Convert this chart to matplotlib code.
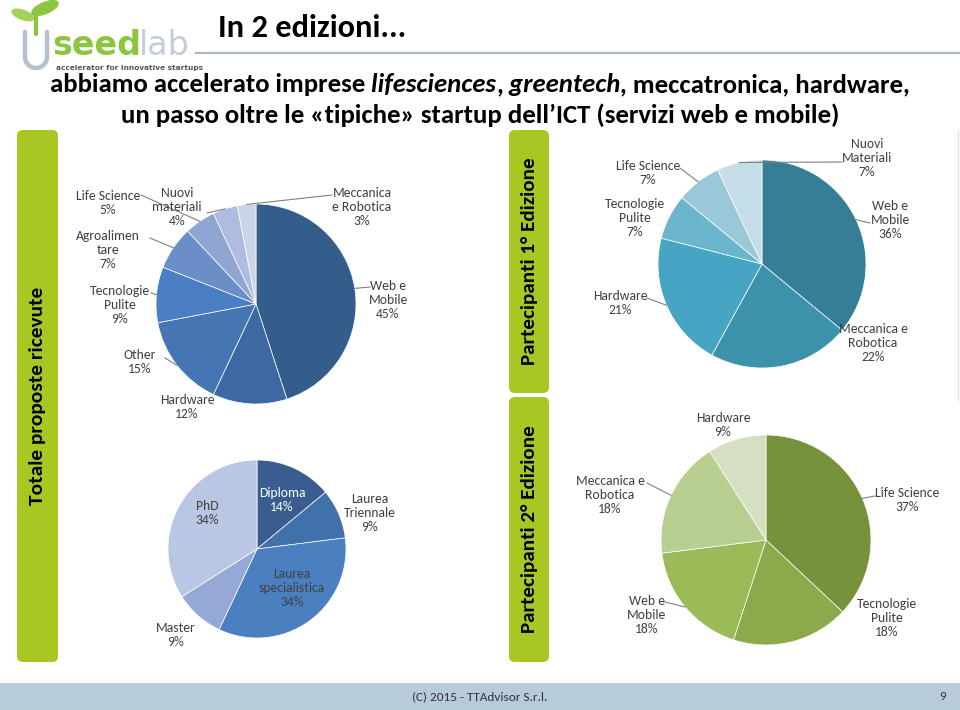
import matplotlib
matplotlib.use('Agg')
import matplotlib.pyplot as plt
from matplotlib import font_manager
from matplotlib.patches import FancyBboxPatch, Rectangle, Ellipse
import numpy as np

# ---------------- data ----------------
tot_labels = ['Web e\nMobile', 'Hardware', 'Other', 'Tecnologie\nPulite', 'Agroalimen\ntare',
              'Life Science', 'Nuovi\nmateriali', 'Meccanica\ne Robotica']
tot_values = [45, 12, 15, 9, 7, 5, 4, 3]

edu_labels = ['Diploma', 'Laurea\nTriennale', 'Laurea\nspecialistica', 'Master', 'PhD']
edu_values = [14, 9, 34, 9, 34]

ed1_labels = ['Web e\nMobile', 'Meccanica e\nRobotica', 'Hardware', 'Tecnologie\nPulite',
              'Life Science', 'Nuovi\nMateriali']
ed1_values = [36, 22, 21, 7, 7, 7]

ed2_labels = ['Life Science', 'Tecnologie\nPulite', 'Web e\nMobile', 'Meccanica e\nRobotica', 'Hardware']
ed2_values = [37, 18, 18, 18, 9]

title = 'In 2 edizioni...'
side_left = 'Totale proposte ricevute'
side_r1 = 'Partecipanti 1° Edizione'
side_r2 = 'Partecipanti 2° Edizione'
footer = '(C) 2015 - TTAdvisor S.r.l.'
page = '9'

# ---------------- fonts ----------------
names = {f.name for f in font_manager.fontManager.ttflist}
def pick(*c):
    for n in c:
        if n in names:
            return n
    return 'DejaVu Sans'
F = pick('Carlito', 'Lato', 'Open Sans')

W, H = 960, 710
fig = plt.figure(figsize=(9.6, 7.1), dpi=100)
fig.patch.set_facecolor('white')
bg = fig.add_axes([0, 0, 1, 1])
bg.set_xlim(0, W)
bg.set_ylim(H, 0)
bg.axis('off')

TXT = '#404040'
GREEN = '#a9c722'

# ---------------- logo ----------------
tt = np.linspace(np.pi, 2 * np.pi, 30)
ux = np.concatenate([[25], 36 + 11 * np.cos(tt), [47]])
uy = np.concatenate([[32], 57 - 11 * np.sin(tt), [32]])
bg.plot(ux, uy, color='#b5c0cf', lw=3.2, solid_capstyle='round')
bg.plot([35.5, 35.5], [15, 34], color='#8cc63e', lw=3, solid_capstyle='round')
bg.add_patch(Ellipse((23, 15), 23, 9, angle=20, color='#a6d15a'))
bg.add_patch(Ellipse((45, 8), 28, 11, angle=-23, color='#8cc63e'))
bg.text(52, 55, 'seed', fontsize=24, fontweight='bold', color='#8cc63e',
        family='DejaVu Sans', ha='left', va='baseline')
bg.text(139, 55, 'lab', fontsize=24, color='#c3cddb', family='DejaVu Sans',
        ha='left', va='baseline')
bg.text(56, 70, 'accelerator for innovative startups', fontsize=5.3, fontweight='bold',
        color='#555555', family='DejaVu Sans', ha='left', va='baseline')

# title + rule
bg.text(218, 28, title, fontsize=23.3, fontweight='bold', color='black', family=F,
        ha='left', va='center')
bg.plot([196, 960], [53, 53], color='#a9b9cc', lw=1.6)

# subtitle (rich text)
def rich_line(segments, y, size):
    out = []
    first = bg.text(0, y, segments[0][0], fontsize=size, fontweight='bold',
                    fontstyle=segments[0][1], family=F, ha='left', va='baseline', color='black')
    out.append(first)
    prev = first
    for s, st in segments[1:]:
        t = bg.annotate(s, xy=(1, y), xycoords=(prev, 'data'), fontsize=size,
                        fontweight='bold', fontstyle=st, family=F, ha='left',
                        va='baseline', color='black')
        out.append(t)
        prev = t
    return out

line1 = rich_line([('abbiamo accelerato imprese', 'normal'), (' lifesciences', 'italic'),
                   (',', 'normal'), (' greentech', 'italic'),
                   (', meccatronica, hardware,', 'normal')], 92, 19.3)
line2 = rich_line([('un passo oltre le «tipiche» startup dell’ICT (servizi web e mobile)', 'normal')],
                  123, 19.3)

# side bars
def side_bar(x0, y0, x1, y1, text, fs):
    bg.add_patch(FancyBboxPatch((x0, y0), x1 - x0, y1 - y0,
                                boxstyle='round,pad=0,rounding_size=6',
                                fc=GREEN, ec='none'))
    bg.text((x0 + x1) / 2, (y0 + y1) / 2, text, rotation=90, fontsize=fs,
            fontweight='bold', family=F, color='black', ha='center', va='center')

side_bar(17, 130, 58, 662, side_left, 15.4)
side_bar(509, 130, 549, 393, side_r1, 15.2)
side_bar(509, 397, 549, 662, side_r2, 15.2)
bg.plot([958, 958], [130, 400], color='#e2e2e2', lw=1)

# footer
bg.add_patch(Rectangle((0, 683), W, 27, fc='#b8cbd9', ec='none'))
bg.text(480, 697, footer, fontsize=9.5, family=F, color='#333333', ha='center', va='center')
bg.text(943, 697, page, fontsize=9.5, family=F, color='#333333', ha='center', va='center')

# ---------------- pies ----------------
def draw_pie(cx, cy, r, values, labels, colors, label_px, leader_px, tcolors=None, fs=9.8):
    ax = fig.add_axes([(cx - r) / W, 1 - (cy + r) / H, 2 * r / W, 2 * r / H])
    wedges, _ = ax.pie(values, colors=colors, startangle=90, counterclock=False,
                       radius=1, wedgeprops=dict(edgecolor='white', linewidth=0.5))
    ax.set_xlim(-1, 1)
    ax.set_ylim(-1, 1)
    ax.set_aspect('equal')
    ax.axis('off')
    for i, (w, lab, v) in enumerate(zip(wedges, labels, values)):
        lx, ly = label_px[i]
        c = TXT if tcolors is None else tcolors[i]
        ax.text((lx - cx) / r, (cy - ly) / r, f'{lab}\n{v}%', ha='center', va='center',
                fontsize=fs, family=F, color=c, linespacing=1.2, clip_on=False)
        if leader_px[i] is not None:
            th = np.deg2rad((w.theta1 + w.theta2) / 2)
            ax.plot([np.cos(th), (leader_px[i][0] - cx) / r],
                    [np.sin(th), (cy - leader_px[i][1]) / r],
                    color='#808080', lw=0.8, clip_on=False)
    return ax

draw_pie(256, 304, 100, tot_values, tot_labels,
         ['#355d8c', '#3d69a2', '#4576b3', '#4a80c3', '#6a8fc8', '#8fa5d2', '#adbcdf', '#ccd5e8'],
         [(388, 300), (187, 407), (140, 362), (120, 305), (108, 250), (108, 203), (177, 207), (362, 207)],
         [(370, 287), None, (165, 358), (151, 293), (150, 238), (141, 195), (207, 213), (332, 195)])

draw_pie(257, 549, 89, edu_values, edu_labels,
         ['#395d8f', '#4171ab', '#4a7fc0', '#94a9d5', '#b9c7e4'],
         [(282, 500), (370, 513), (292, 588), (176, 635), (207, 513)],
         [None, None, None, None, None],
         tcolors=['white', TXT, TXT, TXT, TXT])

draw_pie(762, 264, 104, ed1_values, ed1_labels,
         ['#367e96', '#3c91ab', '#45a5c2', '#6bb5cd', '#9ac8d9', '#c4dde6'],
         [(890, 220), (873, 343), (620, 303), (635, 218), (648, 173), (867, 158)],
         [(870, 223), None, (647, 298), None, (680, 168), (842, 162)])

draw_pie(766, 540, 105, ed2_values, ed2_labels,
         ['#76923c', '#8aaa4c', '#9bbb59', '#b9cf92', '#d5e0c3'],
         [(907, 500), (887, 618), (647, 615), (610, 495), (723, 425)],
         [(875, 496), None, (665, 602), (647, 483), None])

# center subtitle lines
fig.canvas.draw()
rend = fig.canvas.get_renderer()
for ln in (line1, line2):
    b0 = ln[0].get_window_extent(rend)
    b1 = ln[-1].get_window_extent(rend)
    width = b1.x1 - b0.x0
    ln[0].set_x(480 - width / 2)

fig.savefig('out.png', dpi=100, facecolor='white')
